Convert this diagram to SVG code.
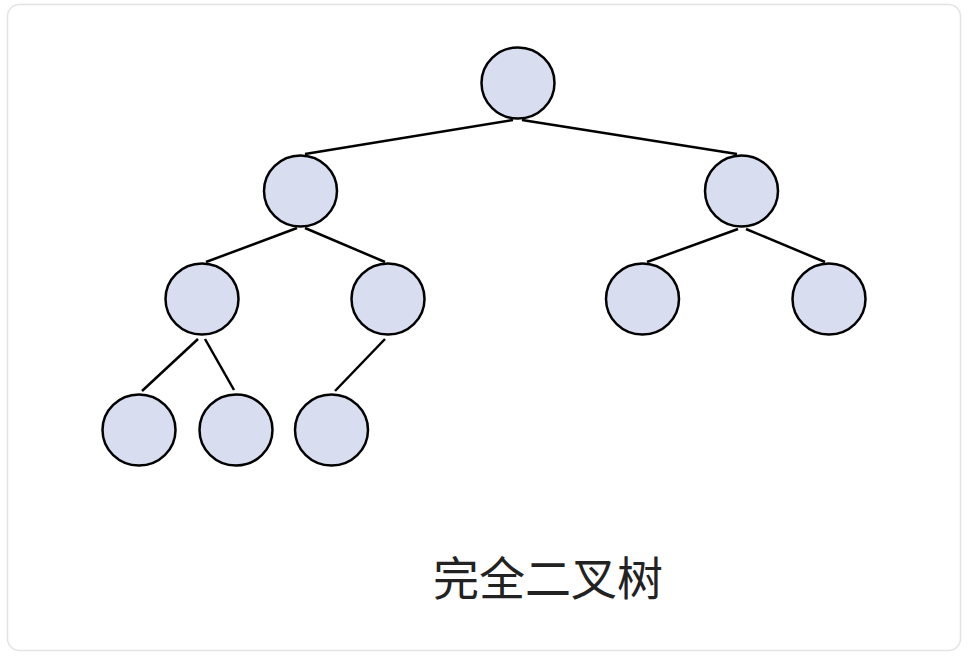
<svg xmlns="http://www.w3.org/2000/svg" width="968" height="656" viewBox="0 0 968 656">
<style>
.node ellipse{fill:#d9ddf0;stroke:#000;stroke-width:2.5}
.edges line{stroke:#000;stroke-width:2.5;stroke-linecap:butt}
.title{font-family:"Noto Sans CJK SC","Noto Sans",sans-serif;font-size:46px;fill:#222;text-anchor:middle}
</style>
<rect x="7.5" y="4.5" width="953" height="646" rx="12" ry="12" fill="#fff" stroke="#e3e3e3" stroke-width="1.5"/>
<g class="edges" id="connectors">
<line x1="513" y1="120" x2="305" y2="154"/>
<line x1="522" y1="120" x2="737" y2="154"/>
<line x1="297" y1="228" x2="206" y2="262"/>
<line x1="305" y1="228" x2="385" y2="262"/>
<line x1="738" y1="229" x2="647" y2="262"/>
<line x1="746" y1="229" x2="825" y2="262"/>
<line x1="198" y1="339" x2="142" y2="391"/>
<line x1="205" y1="339" x2="234" y2="390"/>
<line x1="385" y1="339" x2="335" y2="391"/>
</g>
<g class="node" id="n1"><ellipse cx="518" cy="83" rx="36.5" ry="35.5"/></g>
<g class="node" id="n2"><ellipse cx="300.5" cy="191" rx="36.5" ry="35.5"/></g>
<g class="node" id="n3"><ellipse cx="741.5" cy="191" rx="36.5" ry="35.5"/></g>
<g class="node" id="n4"><ellipse cx="202" cy="299" rx="36.5" ry="35.5"/></g>
<g class="node" id="n5"><ellipse cx="388" cy="299" rx="36.5" ry="35.5"/></g>
<g class="node" id="n6"><ellipse cx="642.5" cy="299" rx="36.5" ry="35.5"/></g>
<g class="node" id="n7"><ellipse cx="829" cy="299" rx="36.5" ry="35.5"/></g>
<g class="node" id="n8"><ellipse cx="139" cy="430" rx="36.5" ry="35.5"/></g>
<g class="node" id="n9"><ellipse cx="236" cy="430" rx="36.5" ry="35.5"/></g>
<g class="node" id="n10"><ellipse cx="331.5" cy="430" rx="36.5" ry="35.5"/></g>
<text class="title" x="548" y="595">完全二叉树</text>
</svg>
